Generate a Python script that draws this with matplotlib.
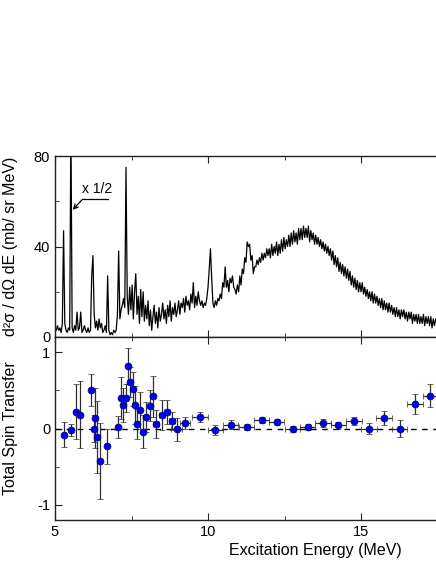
import numpy as np
import matplotlib
matplotlib.use("Agg")
import matplotlib.pyplot as plt
from matplotlib.ticker import MultipleLocator

plt.rcParams['font.family'] = ['Liberation Sans', 'DejaVu Sans']
plt.rcParams['axes.unicode_minus'] = False

# ---------------- spectrum (0.04 MeV bins starting at 5.00 MeV) ----------------
spec_start = 5.0
spec_step = 0.04
spec_counts = [
    # 5.00 - 5.96
    4, 3, 5, 3, 4, 2, 6, 47, 6, 3, 2, 4, 3, 95, 4, 2, 5, 3, 11, 3, 4, 11, 2, 3, 5,
    # 6.00 - 6.96
    3, 2, 4, 2, 3, 27, 36, 10, 4, 7, 3, 8, 4, 6, 2, 3, 5, 2, 27, 3, 1, 2, 1, 3, 2,
    # 7.00 - 7.96
    3, 10, 38, 8, 12, 14, 17, 13, 75, 18, 10, 22, 12, 23, 8, 20, 28, 10, 18, 6, 21, 9, 20, 7, 14,
    # 8.00 - 8.96
    8, 16, 5, 12, 3, 9, 14, 6, 11, 4, 13, 7, 10, 15, 8, 12, 6, 14, 9, 16, 7, 13, 10, 15, 9,
    # 9.00 - 9.96
    12, 16, 10, 15, 13, 17, 11, 18, 14, 16, 12, 19, 15, 24, 13, 18, 14, 20, 16, 14, 16, 13, 15, 14, 17,
    # 10.00 - 10.96
    22, 30, 39, 26, 15, 13, 16, 14, 17, 16, 19, 17, 24, 22, 31, 22, 25, 20, 26, 24, 27, 22, 21, 19, 23,
    # 11.00 - 11.96
    20, 27, 23, 30, 28, 35, 33, 42, 40, 41, 34, 36, 28, 31, 31, 34, 32, 35, 33, 37, 34, 37, 35, 39, 36,
    # 12.00 - 12.96
    39, 35, 41, 36, 40, 37, 42, 36, 41, 37, 43, 38, 44, 39, 43, 40, 45, 40, 46, 41, 47, 42, 46, 41, 48,
    # 13.00 - 13.96
    43, 48, 43, 49, 44, 48, 44, 49, 42, 47, 43, 46, 41, 45, 41, 44, 40, 43, 39, 42, 38, 41, 37, 40, 36,
    # 14.00 - 14.96
    39, 34, 38, 32, 36, 31, 35, 29, 33, 28, 32, 27, 31, 26, 30, 25, 29, 23, 27, 22, 26, 21, 25, 20, 24,
    # 15.00 - 15.96
    20, 24, 19, 22, 18, 21, 17, 20, 16, 20, 15, 19, 15, 18, 14, 17, 13, 17, 12, 16, 12, 15, 11, 15, 11,
    # 16.00 - 16.96
    14, 10, 13, 9, 13, 9, 12, 8, 12, 9, 12, 8, 11, 7, 11, 8, 11, 6, 10, 7, 10, 6, 10, 6, 9,
    # 17.00 - 17.44
    6, 10, 5, 9, 6, 9, 5, 9, 4, 8, 5, 8,
]

# ---------------- total spin transfer ----------------
spin_E = [5.29, 5.51, 5.70, 5.83, 6.18, 6.27, 6.31, 6.36, 6.48, 6.71, 7.05, 7.17,
          7.23, 7.31, 7.37, 7.45, 7.54, 7.60, 7.67, 7.79, 7.89, 7.97, 8.09, 8.19,
          8.31, 8.51, 8.65, 8.81, 8.98, 9.26, 9.74, 10.24, 10.74, 11.26, 11.75,
          12.24, 12.77, 13.26, 13.76, 14.26, 14.77, 15.26, 15.75, 16.26, 16.76, 17.26]
spin_T = [-0.08, -0.02, 0.22, 0.18, 0.51, 0.00, 0.14, -0.11, -0.43, -0.23, 0.02, 0.40,
          0.31, 0.40, 0.82, 0.61, 0.52, 0.31, 0.06, 0.24, -0.04, 0.15, 0.30, 0.42,
          0.06, 0.18, 0.22, 0.10, -0.01, 0.07, 0.15, -0.02, 0.05, 0.02, 0.11,
          0.08, -0.01, 0.02, 0.07, 0.04, 0.10, 0.00, 0.14, 0.00, 0.32, 0.43]
spin_dT = [0.16, 0.08, 0.36, 0.44, 0.21, 0.18, 0.39, 0.47, 0.50, 0.23, 0.14, 0.27,
           0.22, 0.18, 0.24, 0.20, 0.22, 0.25, 0.20, 0.24, 0.22, 0.20, 0.20, 0.27,
           0.18, 0.20, 0.16, 0.12, 0.15, 0.08, 0.07, 0.06, 0.06, 0.04, 0.04,
           0.04, 0.04, 0.04, 0.05, 0.04, 0.05, 0.07, 0.09, 0.11, 0.13, 0.15]
spin_dE = [0.0] * 24 + [0.10, 0.10, 0.10, 0.10, 0.18, 0.16] + [0.25] * 16

spec_E = spec_start + spec_step * np.arange(len(spec_counts))

fig = plt.figure(figsize=(4.36, 5.64), dpi=100)
L, R = 55 / 436, 1.0
ax1 = fig.add_axes([L, (564 - 337) / 564, R - L, (337 - 156) / 564])
ax2 = fig.add_axes([L, (564 - 520) / 564, R - L, (520 - 337) / 564])

for ax in (ax1, ax2):
    ax.set_xlim(5, 17.45)
    ax.spines['right'].set_visible(False)
    for s in ('left', 'top', 'bottom'):
        ax.spines[s].set_linewidth(1.0)
        ax.spines[s].set_color('#222222')
    ax.xaxis.set_major_locator(MultipleLocator(5))
    ax.xaxis.set_minor_locator(MultipleLocator(2.5))
    ax.tick_params(which='both', direction='in', top=True, right=False,
                   labelsize=10.5, color='#222222')
    ax.tick_params(which='major', length=5)
    ax.tick_params(which='minor', length=3)

# top panel
ax1.plot(spec_E, spec_counts, color='black', lw=0.9)
ax1.set_ylim(0, 80)
ax1.yaxis.set_major_locator(MultipleLocator(40))
ax1.yaxis.set_minor_locator(MultipleLocator(20))
ax1.tick_params(labelbottom=False)
ax1.set_ylabel('d²σ / dΩ dE (mb/ sr MeV)', fontsize=11.5)
ax1.yaxis.set_label_coords(-0.098, 0.5)
ax1.text(6.37, 62.5, 'x 1/2', fontsize=10, ha='center', va='bottom')
ax1.plot([5.90, 6.72], [60.9, 60.9], color='black', lw=0.9)
ax1.annotate('', xy=(5.58, 56.2), xytext=(5.90, 60.9),
             arrowprops=dict(arrowstyle='->', lw=0.9, color='black',
                             shrinkA=0, shrinkB=0, mutation_scale=8))

# bottom panel
ax2.axhline(0, color='black', lw=1.0, ls=(0, (4, 4)))
ax2.errorbar(spin_E, spin_T, yerr=spin_dT, xerr=spin_dE, fmt='o',
             color='#0000ee', mec='#000066', mew=0.5, ms=5,
             ecolor='#303030', elinewidth=0.9, capsize=2.5, capthick=0.9)
ax2.set_ylim(-1.2, 1.2)
ax2.yaxis.set_major_locator(MultipleLocator(1))
ax2.yaxis.set_minor_locator(MultipleLocator(0.5))
ax2.set_ylabel('Total Spin Transfer', fontsize=11.5)
ax2.yaxis.set_label_coords(-0.098, 0.5)
ax2.set_xlabel('Excitation Energy (MeV)', fontsize=11.5)
ax2.xaxis.set_label_coords((315 - 55) / 381, -0.128)

fig.savefig('out.png', dpi=100)
